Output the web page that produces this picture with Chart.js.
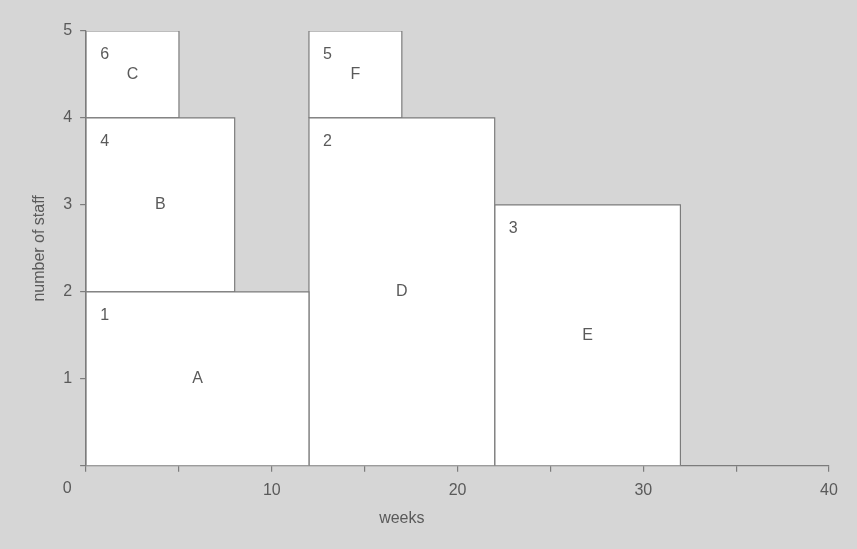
<!DOCTYPE html>
<html><head><meta charset="utf-8">
<script src="https://cdn.jsdelivr.net/npm/chart.js@4"></script>
<style>html,body{margin:0;padding:0;background:#d6d6d6;} #wrap{width:857px;height:549px;} canvas{display:block;}</style>
</head><body><div id="wrap"><canvas id="c" width="857" height="549"></canvas></div>
<script>
const activities = ['A', 'B', 'C', 'D', 'E', 'F'];
const startWeek  = [0, 0, 0, 12, 22, 12];
const endWeek    = [12, 8, 5, 22, 32, 17];
const staffFrom  = [0, 2, 4, 0, 0, 4];
const staffTo    = [2, 4, 5, 4, 3, 5];
const sequence   = [1, 4, 6, 2, 3, 5];
const weekMax = 40;
const staffMax = 5;
const xTitle = 'weeks';
const yTitle = 'number of staff';

const TEXT = '#5a5a5a';
const LINE = '#7c7c7c';
const FONT = { family: '"Liberation Sans", Arial, sans-serif', size: 16 };

const datasets = activities.map((a, i) => ({
  label: a,
  data: [
    { x: startWeek[i], y: staffFrom[i] },
    { x: startWeek[i], y: staffTo[i] },
    { x: endWeek[i], y: staffTo[i] },
    { x: endWeek[i], y: staffFrom[i] },
    { x: startWeek[i], y: staffFrom[i] }
  ],
  fill: 'shape',
  backgroundColor: '#ffffff',
  borderColor: LINE,
  borderWidth: 1.2,
  pointRadius: 0,
  tension: 0
}));

const annot = {
  id: 'annot',
  afterDraw(chart) {
    const { ctx, scales: { x, y } } = chart;
    ctx.save();
    ctx.fillStyle = TEXT;
    ctx.font = FONT.size + 'px ' + FONT.family;
    ctx.textAlign = 'center';
    ctx.textBaseline = 'middle';
    activities.forEach((a, i) => {
      ctx.fillText(a, x.getPixelForValue((startWeek[i] + endWeek[i]) / 2),
                      y.getPixelForValue((staffFrom[i] + staffTo[i]) / 2));
      ctx.fillText(String(sequence[i]), x.getPixelForValue(startWeek[i] + 1),
                      y.getPixelForValue(staffTo[i] - 0.27));
    });
    // shared origin label
    ctx.fillText('0', x.getPixelForValue(0) - 19, x.top + 23);
    // x axis title
    ctx.fillText(xTitle, x.getPixelForValue(17), x.top + 53);
    ctx.restore();
  }
};

new Chart(document.getElementById('c'), {
  type: 'line',
  data: { datasets },
  options: {
    responsive: false,
    animation: false,
    layout: { padding: { left: 10, right: 28, top: 31, bottom: 40 } },
    plugins: { legend: { display: false }, tooltip: { enabled: false } },
    scales: {
      x: {
        type: 'linear', min: 0, max: weekMax,
        ticks: {
          stepSize: 5, color: TEXT, font: FONT, padding: 9, maxRotation: 0,
          callback: v => (v % 10 === 0 && v !== 0) ? String(v) : ''
        },
        grid: { display: true, drawOnChartArea: false, drawTicks: true, tickLength: 6, color: LINE, lineWidth: 1.2 },
        border: { display: true, color: LINE, width: 1.2 }
      },
      y: {
        type: 'linear', min: 0, max: staffMax,
        ticks: {
          stepSize: 1, color: TEXT, font: FONT, padding: 8,
          callback: v => v === 0 ? '' : String(v)
        },
        grid: { display: true, drawOnChartArea: false, drawTicks: true, tickLength: 6, color: LINE, lineWidth: 1.2 },
        border: { display: true, color: LINE, width: 1.2 },
        title: { display: true, text: yTitle, color: TEXT, font: FONT, padding: { top: 20, bottom: 6 } }
      }
    }
  },
  plugins: [annot]
});
</script>
</body></html>
